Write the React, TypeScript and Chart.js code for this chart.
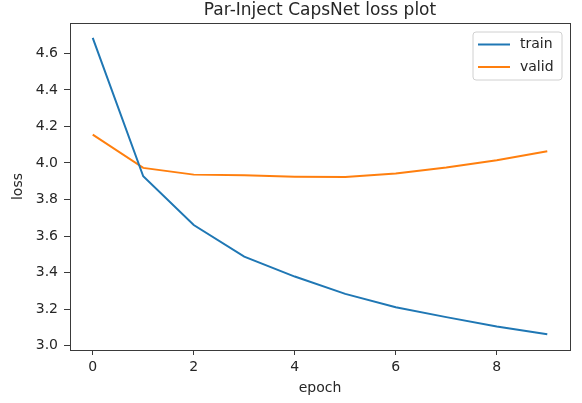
import React, { useEffect, useRef } from "react";
import { Chart, registerables } from "chart.js";

Chart.register(...registerables);

const epochs = [0, 1, 2, 3, 4, 5, 6, 7, 8, 9];
const trainLoss = [4.685, 3.927, 3.66, 3.487, 3.378, 3.283, 3.21, 3.156, 3.105, 3.062];
const validLoss = [4.155, 3.973, 3.936, 3.932, 3.925, 3.923, 3.942, 3.975, 4.015, 4.064];
const xTicks = [0, 2, 4, 6, 8];
const yTicks = [3.0, 3.2, 3.4, 3.6, 3.8, 4.0, 4.2, 4.4, 4.6];
const titleText = "Par-Inject CapsNet loss plot";
const xLabel = "epoch";
const yLabel = "loss";

const FONT = "'DejaVu Sans', sans-serif";
const TEXT = "#262626";
const SPINE = "#3a3a3a";

const decorPlugin = {
  id: "decor",
  afterDraw(chart: any) {
    const ctx = chart.ctx;
    const a = chart.chartArea;
    ctx.save();
    // frame
    ctx.strokeStyle = SPINE;
    ctx.lineWidth = 1;
    ctx.strokeRect(Math.round(a.left) + 0.5, Math.round(a.top) + 0.5, Math.round(a.right - a.left), Math.round(a.bottom - a.top));
    // title
    ctx.fillStyle = TEXT;
    ctx.font = `17px ${FONT}`;
    ctx.textAlign = "center";
    ctx.textBaseline = "middle";
    ctx.fillText(titleText, (a.left + a.right) / 2, 11);
    // x label
    ctx.font = `14px ${FONT}`;
    ctx.fillText(xLabel, (a.left + a.right) / 2, 388);
    // y label
    ctx.save();
    ctx.translate(18, (a.top + a.bottom) / 2);
    ctx.rotate(-Math.PI / 2);
    ctx.fillText(yLabel, 0, 0);
    ctx.restore();
    // legend
    const bx = a.right - 97, by = a.top + 9, bw = 89, bh = 48;
    ctx.beginPath();
    const r = 3;
    ctx.moveTo(bx + r, by);
    ctx.lineTo(bx + bw - r, by);
    ctx.quadraticCurveTo(bx + bw, by, bx + bw, by + r);
    ctx.lineTo(bx + bw, by + bh - r);
    ctx.quadraticCurveTo(bx + bw, by + bh, bx + bw - r, by + bh);
    ctx.lineTo(bx + r, by + bh);
    ctx.quadraticCurveTo(bx, by + bh, bx, by + bh - r);
    ctx.lineTo(bx, by + r);
    ctx.quadraticCurveTo(bx, by, bx + r, by);
    ctx.closePath();
    ctx.fillStyle = "rgba(255,255,255,0.8)";
    ctx.fill();
    ctx.strokeStyle = "#d0d0d0";
    ctx.stroke();
    chart.data.datasets.forEach((ds: any, i: number) => {
      const yy = by + 12.5 + i * 22.5;
      ctx.strokeStyle = ds.borderColor;
      ctx.lineWidth = 2;
      ctx.beginPath();
      ctx.moveTo(bx + 5, yy);
      ctx.lineTo(bx + 37, yy);
      ctx.stroke();
      ctx.fillStyle = TEXT;
      ctx.font = `14px ${FONT}`;
      ctx.textAlign = "left";
      ctx.textBaseline = "middle";
      ctx.fillText(ds.label, bx + 47, yy);
    });
    ctx.restore();
  },
};

export default function App() {
  const ref = useRef<HTMLCanvasElement | null>(null);
  useEffect(() => {
    if (!ref.current) return;
    const chart = new Chart(ref.current, {
      type: "line",
      data: {
        datasets: [
          {
            label: "train",
            data: epochs.map((e, i) => ({ x: e, y: trainLoss[i] })),
            borderColor: "#1f77b4",
            backgroundColor: "#1f77b4",
            borderWidth: 2,
            pointRadius: 0,
            tension: 0,
          },
          {
            label: "valid",
            data: epochs.map((e, i) => ({ x: e, y: validLoss[i] })),
            borderColor: "#ff7f0e",
            backgroundColor: "#ff7f0e",
            borderWidth: 2,
            pointRadius: 0,
            tension: 0,
          },
        ],
      },
      options: {
        animation: false,
        responsive: false,
        devicePixelRatio: 1,
        layout: { padding: { top: 23, right: 12, left: 0, bottom: 0 } },
        plugins: { legend: { display: false }, title: { display: false }, tooltip: { enabled: false } },
        scales: {
          x: {
            type: "linear",
            min: -0.45,
            max: 9.45,
            afterBuildTicks: (s: any) => {
              s.ticks = xTicks.map((v) => ({ value: v }));
            },
            afterFit: (s: any) => {
              s.height = 53;
            },
            ticks: {
              padding: 4,
              color: TEXT,
              font: { family: FONT, size: 14 },
              callback: (v: any) => String(v),
              maxRotation: 0,
            },
            grid: { drawOnChartArea: false, drawTicks: true, tickLength: 5, color: SPINE, tickColor: SPINE },
            border: { display: true, color: SPINE },
          },
          y: {
            type: "linear",
            min: 2.976,
            max: 4.766,
            afterBuildTicks: (s: any) => {
              s.ticks = yTicks.map((v) => ({ value: v }));
            },
            afterFit: (s: any) => {
              s.width = 70;
            },
            ticks: {
              padding: 6,
              color: TEXT,
              font: { family: FONT, size: 14 },
              callback: (v: any) => Number(v).toFixed(1),
            },
            grid: { drawOnChartArea: false, drawTicks: true, tickLength: 6, color: SPINE, tickColor: SPINE },
            border: { display: true, color: SPINE },
          },
        },
      },
      plugins: [decorPlugin],
    } as any);
    return () => chart.destroy();
  }, []);
  return (
    <div style={{ position: "fixed", left: 0, top: 0, width: 582, height: 403, background: "#fff" }}>
      <canvas ref={ref} width={582} height={403} />
    </div>
  );
}
